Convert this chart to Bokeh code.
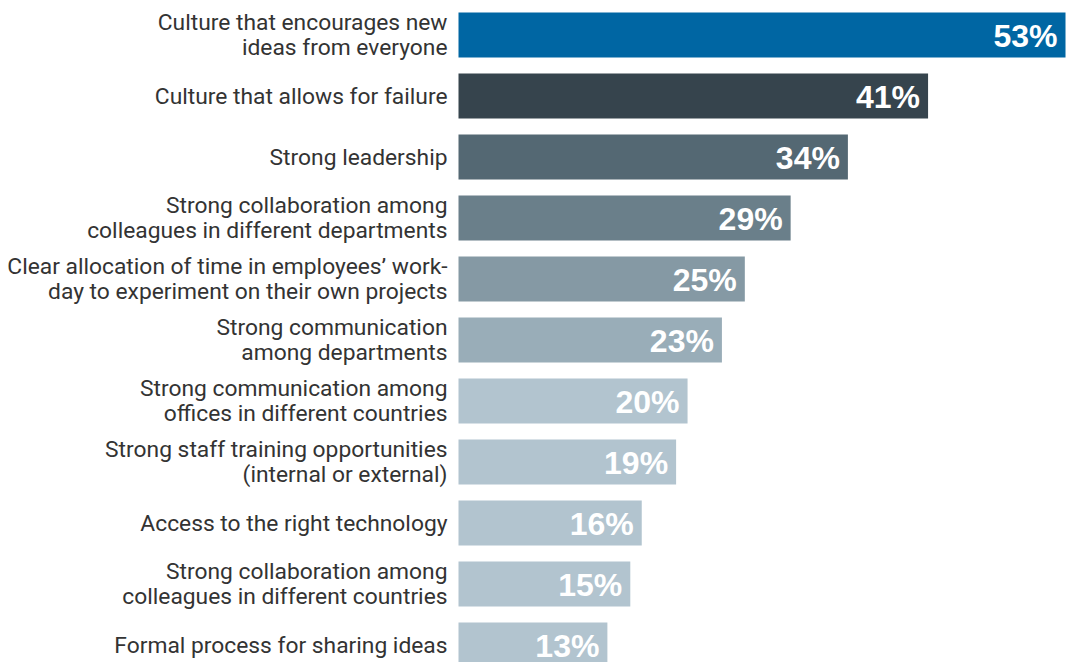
from bokeh.plotting import figure
from bokeh.models import ColumnDataSource, Range1d
from bokeh.core.properties import value
from bokeh.embed import file_html
from bokeh.resources import INLINE

categories = [
    "Culture that encourages new\nideas from everyone",
    "Culture that allows for failure",
    "Strong leadership",
    "Strong collaboration among\ncolleagues in different departments",
    "Clear allocation of time in employees\u2019 work-\nday to experiment on their own projects",
    "Strong communication\namong departments",
    "Strong communication among\noffices in different countries",
    "Strong staff training opportunities\n(internal or external)",
    "Access to the right technology",
    "Strong collaboration among\ncolleagues in different countries",
    "Formal process for sharing ideas",
]
values = [53, 41, 34, 29, 25, 23, 20, 19, 16, 15, 13]
colors = ["#0066a3", "#36444d", "#546873", "#6a7f8a", "#8599a4", "#99adb8",
          "#b2c4cf", "#b2c4cf", "#b2c4cf", "#b2c4cf", "#b2c4cf"]

n = len(categories)
pos = list(range(n))
src = ColumnDataSource(dict(
    cat=categories, val=values, col=colors, y=pos,
    lab=[f"{v}%" for v in values], zero=[0] * n,
))

W, H = 1076, 662
pxu = 11.453          # px per percent
x0_px = 458           # pixel position of 0%
step = 61.0           # px between bars
top_center = 34.5     # px of first bar center

x_start = -x0_px / pxu
x_end = x_start + W / pxu
y_top = -top_center / step
y_bottom = y_top + H / step

p = figure(width=W, height=H, output_backend="svg", toolbar_location=None,
           x_range=Range1d(x_start, x_end), y_range=Range1d(y_bottom, y_top),
           min_border=0, outline_line_color=None)
p.axis.visible = False
p.grid.visible = False
p.background_fill_color = "white"
p.border_fill_color = "white"

p.hbar(y="y", left=0, right="val", height=45 / step, fill_color="col",
       line_color=None, source=src)

p.text(x="zero", y="y", text="cat", source=src, x_offset=-11,
       text_align="right", text_baseline="middle",
       text_font=value("Roboto"), text_font_size="22.8px",
       text_color="#333333", text_line_height=0.95)

p.text(x="val", y="y", text="lab", source=src, x_offset=-8, y_offset=1,
       text_align="right", text_baseline="middle",
       text_font=value("Liberation Sans"), text_font_style="bold",
       text_font_size="32px", text_color="white")

open("out.html", "w").write(file_html(p, INLINE))
